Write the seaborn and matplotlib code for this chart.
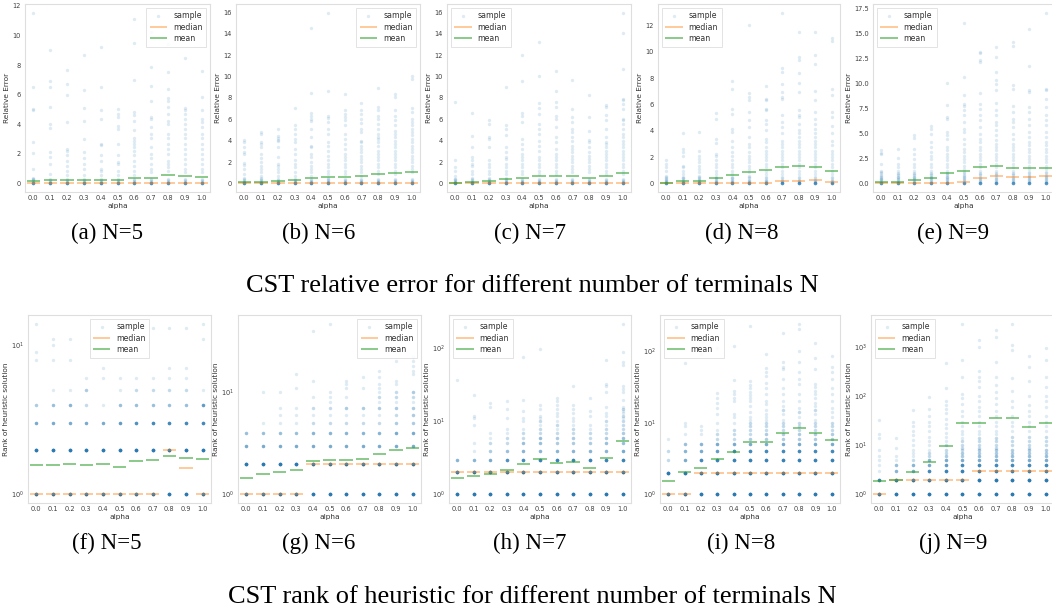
import numpy as np
import pandas as pd
import matplotlib
matplotlib.use("Agg")
import matplotlib.pyplot as plt
import seaborn as sns

# ---------------- data ----------------
alphas = [0.0, 0.1, 0.2, 0.3, 0.4, 0.5, 0.6, 0.7, 0.8, 0.9, 1.0]
alpha_labels = ["0.0", "0.1", "0.2", "0.3", "0.4", "0.5", "0.6", "0.7", "0.8", "0.9", "1.0"]
panel_captions = ["(a) N=5", "(b) N=6", "(c) N=7", "(d) N=8", "(e) N=9",
                  "(f) N=5", "(g) N=6", "(h) N=7", "(i) N=8", "(j) N=9"]
row_titles = ["CST relative error for different number of terminals N",
              "CST rank of heuristic for different number of terminals N"]

# relative error samples (visible points per alpha)
err_N5 = [
    [11.55, 6.5, 5.05, 4.95, 2.8, 2.05, 1.0, 0.4, 0.3],
    [9.0, 6.9, 6.55, 5.2, 4.05, 3.75, 2.15, 1.8, 1.3, 0.65],
    [7.65, 6.7, 5.95, 4.15, 2.35, 2.2, 1.9, 1.55, 1.2, 0.85, 0.6],
    [8.65, 6.3, 5.1, 4.25, 3.0, 2.1, 1.75, 1.3, 1.0, 0.6],
    [9.25, 6.5, 4.95, 4.35, 2.7, 2.6, 1.9, 1.55, 1.0, 0.85, 0.6],
    [5.05, 4.7, 4.5, 3.85, 3.7, 2.7, 1.9, 1.45, 1.3, 0.85, 0.6],
    [11.1, 9.5, 7.0, 4.8, 4.6, 4.25, 3.6, 3.1, 2.9, 2.65, 2.45, 2.2, 1.9, 1.55, 1.2, 0.85, 0.6],
    [10.25, 7.9, 6.6, 5.6, 4.5, 4.35, 3.8, 3.35, 3.1, 2.45, 2.0, 1.75, 1.3, 1.0, 0.75],
    [9.4, 7.55, 6.35, 5.75, 5.6, 5.2, 4.7, 4.25, 4.05, 3.35, 3.05, 2.65, 2.35, 2.0, 1.55, 1.3, 1.1, 0.85],
    [8.5, 5.1, 4.95, 4.7, 4.35, 4.05, 3.7, 3.35, 3.1, 2.65, 2.35, 2.0, 1.65, 1.3, 1.0, 0.75],
    [7.6, 5.85, 4.95, 4.35, 4.15, 3.8, 3.35, 3.1, 2.65, 2.35, 2.0, 1.65, 1.3, 1.0, 0.75],
]
err_N6 = [
    [4.1, 3.85, 3.45, 2.9, 2.75, 1.9, 1.75, 1.35, 0.9, 0.55],
    [4.8, 4.65, 3.85, 3.7, 3.4, 2.75, 2.4, 2.05, 1.6, 1.35, 1.05, 0.7, 0.5],
    [5.1, 4.4, 4.25, 4.1, 4.0, 3.4, 2.45, 1.8, 1.65, 1.35, 1.05, 0.7],
    [7.1, 5.45, 5.1, 4.65, 4.15, 3.85, 3.25, 2.75, 2.15, 1.8, 1.5, 1.05, 0.7],
    [14.6, 8.5, 6.6, 6.35, 6.05, 5.85, 5.1, 4.35, 3.55, 3.4, 2.75, 2.45, 2.0, 1.65, 1.35, 1.05, 0.7],
    [16.0, 8.7, 6.35, 6.15, 5.75, 5.1, 4.65, 3.85, 3.55, 3.05, 2.6, 2.15, 1.8, 1.5, 1.2, 0.9, 0.55],
    [8.4, 6.85, 6.5, 6.2, 5.9, 5.5, 4.65, 4.15, 3.7, 3.25, 2.75, 2.45, 2.15, 1.8, 1.5, 1.2, 0.9],
    [7.55, 6.85, 6.5, 6.05, 5.65, 5.1, 4.8, 4.0, 3.85, 3.55, 3.25, 2.9, 2.6, 2.3, 2.0, 1.65, 1.35, 1.05, 0.7],
    [8.9, 7.15, 6.85, 6.35, 6.05, 5.6, 5.1, 4.65, 4.35, 4.15, 3.85, 3.55, 3.05, 2.75, 2.45, 2.15, 1.8, 1.5, 1.2, 0.9],
    [8.4, 8.1, 6.85, 6.35, 5.9, 5.45, 4.95, 4.65, 4.35, 4.0, 3.7, 3.4, 3.05, 2.75, 2.45, 2.15, 1.8, 1.5, 1.2, 0.9],
    [10.05, 9.8, 7.1, 6.7, 6.05, 5.75, 5.45, 5.1, 4.8, 4.5, 4.15, 3.85, 3.55, 3.25, 2.9, 2.6, 2.3, 2.0, 1.65, 1.35, 1.05],
]
err_N7 = [
    [7.6, 2.2, 1.5, 1.2, 0.7, 0.4],
    [6.6, 4.4, 3.4, 2.45, 2.15, 1.8, 1.65, 1.2, 0.9, 0.55],
    [5.95, 5.6, 4.35, 4.15, 3.4, 2.15, 1.8, 1.5, 1.2, 0.9, 0.55],
    [9.0, 5.45, 5.1, 4.5, 3.4, 2.9, 2.45, 2.3, 1.8, 1.5, 1.2, 0.9, 0.55],
    [12.0, 9.55, 6.6, 6.35, 5.75, 4.15, 3.7, 3.25, 2.75, 2.45, 2.15, 1.8, 1.5, 1.2, 0.9],
    [13.2, 10.05, 7.55, 7.1, 6.5, 5.6, 5.1, 4.65, 4.0, 3.55, 3.05, 2.45, 2.15, 1.8, 1.5, 1.2, 0.9],
    [10.55, 8.65, 7.6, 7.15, 6.35, 6.05, 5.25, 4.35, 3.85, 3.25, 2.75, 2.45, 2.15, 1.8, 1.5, 1.2, 0.9],
    [9.7, 7.0, 6.2, 5.75, 5.1, 4.8, 4.35, 4.0, 3.55, 3.25, 2.9, 2.6, 2.3, 2.0, 1.65, 1.35, 1.05],
    [8.25, 6.2, 4.9, 4.1, 3.85, 3.4, 2.9, 2.6, 2.3, 2.0, 1.65, 1.35, 1.05],
    [7.3, 7.15, 6.45, 5.9, 5.1, 4.35, 3.85, 3.7, 3.4, 3.05, 2.75, 2.45, 2.15, 1.8, 1.5, 1.2, 0.9],
    [16.0, 14.1, 10.75, 7.95, 7.8, 7.45, 7.0, 6.05, 5.9, 5.6, 5.1, 4.65, 4.35, 4.0, 3.7, 3.4, 3.05, 2.75, 2.45, 2.15, 1.8, 1.5, 1.2, 0.9],
]
err_N8 = [
    [1.8, 1.5, 1.25, 0.95, 0.6, 0.35],
    [3.8, 2.65, 2.4, 2.1, 1.35, 1.25, 0.95, 0.7, 0.45],
    [3.95, 2.5, 2.1, 1.85, 1.6, 1.35, 1.1, 0.85, 0.6, 0.35],
    [5.35, 4.9, 3.4, 3.05, 2.25, 2.1, 1.75, 1.5, 1.25, 0.95, 0.7, 0.45],
    [7.8, 7.2, 5.7, 5.3, 4.15, 3.9, 3.25, 2.75, 2.4, 2.1, 1.75, 1.5, 1.25, 0.95, 0.7, 0.45],
    [12.05, 6.85, 6.6, 6.35, 5.45, 4.8, 4.3, 3.5, 3.0, 2.75, 2.4, 2.1, 1.85, 1.6, 1.35, 1.1, 0.85, 0.6],
    [7.4, 6.45, 6.35, 5.7, 5.55, 4.8, 4.55, 4.05, 3.4, 3.15, 2.75, 2.5, 2.25, 2.0, 1.75, 1.5, 1.25, 0.95, 0.7],
    [13.0, 8.75, 8.5, 7.6, 6.95, 6.6, 6.45, 5.2, 4.65, 4.3, 3.8, 3.25, 3.0, 2.75, 2.5, 2.25, 2.0, 1.75, 1.5, 1.25, 0.95, 0.7],
    [11.55, 9.6, 9.4, 8.4, 7.65, 6.95, 5.55, 5.2, 5.05, 4.55, 4.05, 3.8, 3.5, 3.25, 3.0, 2.75, 2.5, 2.25, 2.0, 1.75, 1.5, 1.25, 0.95, 0.7],
    [11.5, 9.75, 9.1, 7.05, 6.35, 5.45, 4.9, 4.55, 4.15, 3.8, 3.5, 3.25, 3.0, 2.75, 2.5, 2.25, 2.0, 1.75, 1.5, 1.25, 0.95, 0.7],
    [11.05, 10.8, 7.15, 6.7, 5.45, 5.05, 4.4, 3.8, 3.25, 2.9, 2.5, 2.25, 2.0, 1.75, 1.5, 1.25, 0.95, 0.7],
]
err_N9 = [
    [3.3, 3.0, 2.9, 1.95, 1.25, 1.1, 0.75, 0.45],
    [3.45, 2.55, 1.95, 1.6, 1.25, 0.95, 0.6],
    [4.8, 4.55, 3.45, 2.95, 2.45, 1.95, 1.6, 1.25, 0.95, 0.6],
    [5.7, 5.45, 4.95, 4.1, 3.6, 3.1, 2.75, 2.45, 1.95, 1.6, 1.25, 0.95, 0.6],
    [10.05, 7.8, 6.6, 6.45, 5.1, 4.8, 4.45, 3.6, 3.3, 2.95, 2.6, 2.3, 1.95, 1.6, 1.25, 0.95, 0.6],
    [16.0, 10.65, 8.8, 7.9, 7.7, 7.3, 6.8, 6.1, 5.45, 5.1, 4.45, 3.95, 3.45, 3.1, 2.75, 2.45, 2.1, 1.75, 1.45, 1.1, 0.75],
    [13.15, 13.0, 12.3, 12.15, 9.05, 7.95, 7.45, 6.8, 6.3, 5.6, 4.95, 4.45, 4.1, 3.6, 3.3, 2.95, 2.6, 2.3, 1.95, 1.6, 1.25, 0.95],
    [13.65, 12.65, 11.15, 10.3, 9.95, 9.35, 8.05, 7.3, 6.8, 6.1, 5.8, 5.3, 4.8, 4.3, 3.95, 3.6, 3.3, 2.95, 2.6, 2.3, 1.95, 1.6, 1.25, 0.95],
    [14.15, 13.7, 9.8, 9.45, 7.7, 7.15, 6.45, 6.1, 5.6, 4.95, 4.45, 3.95, 3.6, 3.3, 2.95, 2.6, 2.3, 1.95, 1.6, 1.25, 0.95],
    [15.4, 11.7, 9.3, 9.15, 7.65, 7.15, 6.45, 5.8, 5.1, 4.6, 4.1, 3.8, 3.45, 3.1, 2.75, 2.45, 2.1, 1.75, 1.45, 1.1, 0.75],
    [17.05, 9.45, 9.3, 8.45, 7.65, 6.8, 6.3, 5.8, 5.1, 4.6, 4.1, 3.8, 3.45, 3.1, 2.75, 2.45, 2.1, 1.75, 1.45, 1.1, 0.75],
]
# the dense cluster of samples close to zero, present in every alpha column
err_dense_N5 = [0, 0, 0, 0, 0, 0, 0, 0, 0.02, 0.05, 0.1, 0.15, 0.2, 0.3]
err_dense_N6 = [0, 0, 0, 0, 0, 0, 0, 0, 0.02, 0.05, 0.1, 0.15, 0.2, 0.3, 0.4]
err_dense_N7 = [0, 0, 0, 0, 0, 0, 0, 0, 0.02, 0.05, 0.1, 0.15, 0.2, 0.3, 0.4]
err_dense_N8 = [0, 0, 0, 0, 0, 0, 0, 0, 0.02, 0.05, 0.1, 0.15, 0.2, 0.3, 0.4, 0.5]
err_dense_N9 = [0, 0, 0, 0, 0, 0, 0, 0, 0.05, 0.1, 0.2, 0.3, 0.4, 0.5, 0.6, 0.8, 1.0]

err_median_N5 = [0.0, 0.0, 0.0, 0.0, 0.0, 0.0, 0.0, 0.0, 0.0, 0.0, 0.0]
err_median_N6 = [0.03, 0.03, 0.03, 0.03, 0.03, 0.03, 0.03, 0.03, 0.03, 0.03, 0.03]
err_median_N7 = [0.03, 0.03, 0.03, 0.03, 0.03, 0.03, 0.03, 0.03, 0.03, 0.03, 0.03]
err_median_N8 = [0.0, 0.05, 0.03, 0.03, 0.03, 0.03, 0.03, 0.15, 0.18, 0.25, 0.08]
err_median_N9 = [0.05, 0.03, 0.03, 0.03, 0.03, 0.1, 0.5, 0.75, 0.6, 0.6, 0.77]

err_mean_N5 = [0.18, 0.22, 0.22, 0.22, 0.22, 0.22, 0.4, 0.4, 0.57, 0.5, 0.42]
err_mean_N6 = [0.15, 0.18, 0.22, 0.32, 0.5, 0.63, 0.63, 0.72, 0.88, 0.97, 1.1]
err_mean_N7 = [0.05, 0.12, 0.22, 0.38, 0.5, 0.72, 0.72, 0.7, 0.5, 0.72, 0.97]
err_mean_N8 = [0.03, 0.15, 0.15, 0.45, 0.63, 0.85, 1.02, 1.28, 1.3, 1.22, 0.97]
err_mean_N9 = [0.1, 0.1, 0.33, 0.53, 1.0, 1.2, 1.6, 1.7, 1.55, 1.55, 1.55]

# rank of heuristic samples: {rank: number of samples}
rank_N5 = [
    {1: 20, 2: 20, 3: 6, 4: 3, 8: 1, 9: 1, 14: 1},
    {1: 20, 2: 20, 3: 6, 4: 4, 5: 1, 8: 1, 10: 1, 11: 1},
    {1: 20, 2: 20, 3: 6, 4: 5, 5: 1, 8: 1, 11: 1},
    {1: 20, 2: 20, 3: 6, 4: 2, 5: 3, 6: 1},
    {1: 20, 2: 20, 3: 6, 4: 1, 6: 1, 7: 1},
    {1: 20, 2: 20, 3: 8, 4: 4, 5: 1, 6: 1},
    {1: 20, 2: 20, 3: 10, 4: 4, 5: 2, 6: 1},
    {1: 20, 2: 20, 3: 12, 4: 4, 5: 2, 6: 1, 13: 1},
    {1: 20, 2: 20, 3: 12, 4: 4, 5: 2, 6: 1, 7: 1, 13: 1},
    {1: 20, 2: 20, 3: 12, 4: 4, 5: 2, 6: 1, 7: 1, 13: 1},
    {1: 20, 2: 20, 3: 12, 4: 8, 5: 1, 11: 1, 14: 1},
]
rank_N6 = [
    {1: 20, 2: 20, 3: 6, 4: 4},
    {1: 20, 2: 20, 3: 6, 4: 4, 5: 1, 10: 1},
    {1: 20, 2: 20, 3: 6, 4: 4, 5: 1, 6: 1, 7: 1, 10: 1},
    {1: 20, 2: 20, 3: 6, 4: 4, 5: 1, 6: 1, 7: 1, 11: 1, 15: 1},
    {1: 20, 2: 20, 3: 6, 4: 5, 5: 2, 6: 1, 7: 2, 9: 1, 13: 1, 40: 1},
    {1: 20, 2: 20, 3: 6, 4: 5, 5: 2, 6: 1, 7: 2, 8: 1, 9: 1, 10: 1, 47: 1},
    {1: 20, 2: 20, 3: 6, 4: 5, 5: 2, 6: 1, 7: 3, 9: 1, 11: 1, 12: 1, 13: 1},
    {1: 20, 2: 20, 3: 6, 4: 5, 5: 2, 6: 1, 7: 3, 11: 1, 14: 1},
    {1: 20, 2: 20, 3: 6, 4: 5, 5: 2, 6: 1, 7: 3, 8: 1, 9: 2, 10: 1, 11: 1, 12: 1, 14: 1, 16: 1},
    {1: 20, 2: 20, 3: 6, 4: 6, 5: 3, 6: 2, 7: 3, 8: 1, 9: 2, 10: 2, 12: 1, 13: 1, 20: 1},
    {1: 20, 2: 20, 3: 6, 4: 6, 5: 3, 6: 3, 7: 3, 8: 1, 9: 2, 10: 3, 15: 1, 16: 1, 18: 1, 20: 1, 22: 1},
]
rank_N7 = [
    {1: 20, 2: 20, 3: 5, 37: 1},
    {1: 20, 2: 20, 3: 5, 4: 1, 5: 1, 9: 1, 11: 1, 12: 1, 23: 1},
    {1: 20, 2: 20, 3: 6, 4: 3, 5: 2, 6: 1, 7: 1, 16: 1, 18: 1},
    {1: 20, 2: 20, 3: 10, 4: 4, 5: 2, 6: 2, 7: 1, 8: 1, 11: 1, 15: 1, 19: 1},
    {1: 20, 2: 20, 3: 12, 4: 5, 5: 4, 6: 2, 7: 2, 8: 1, 10: 1, 11: 1, 14: 1, 20: 1, 77: 1},
    {1: 20, 2: 20, 3: 14, 4: 5, 5: 4, 6: 4, 7: 2, 8: 2, 9: 1, 10: 2, 11: 1, 12: 1, 15: 1, 17: 1, 100: 1},
    {1: 20, 2: 20, 3: 14, 4: 5, 5: 3, 6: 3, 7: 2, 8: 1, 9: 2, 10: 1, 12: 1, 13: 1, 15: 1, 17: 1, 19: 1, 21: 1},
    {1: 20, 2: 20, 3: 14, 4: 5, 5: 3, 6: 3, 7: 2, 8: 2, 9: 1, 10: 1, 11: 1, 13: 1, 15: 1, 17: 1, 31: 1},
    {1: 20, 2: 20, 3: 14, 4: 5, 5: 3, 6: 2, 7: 2, 8: 1, 9: 1, 12: 1, 14: 1, 21: 1},
    {1: 20, 2: 20, 3: 14, 4: 5, 5: 4, 6: 3, 7: 2, 8: 2, 9: 1, 10: 2, 12: 1, 13: 1, 16: 1, 25: 1, 31: 1, 33: 1, 70: 1},
    {1: 20, 2: 20, 3: 14, 4: 6, 5: 4, 6: 4, 7: 3, 8: 2, 9: 2, 10: 2, 11: 1, 12: 2, 13: 1, 14: 1, 15: 2, 16: 1,
     20: 1, 25: 1, 28: 1, 31: 1, 60: 1, 65: 1, 90: 1, 220: 1},
]
rank_N8 = [
    {1: 20, 2: 20, 3: 2, 4: 2, 6: 1},
    {1: 20, 2: 20, 3: 6, 4: 5, 5: 4, 7: 1, 9: 1, 10: 1, 67: 1},
    {1: 20, 2: 20, 3: 12, 4: 6, 5: 5, 7: 1, 8: 1, 9: 1, 90: 1},
    {1: 20, 2: 20, 3: 14, 4: 8, 5: 6, 6: 2, 7: 2, 8: 1, 10: 1, 13: 1, 16: 1, 19: 1, 22: 1, 26: 1, 110: 1},
    {1: 20, 2: 20, 3: 15, 4: 12, 5: 6, 6: 2, 7: 2, 8: 2, 10: 1, 12: 1, 13: 1, 20: 1, 22: 1, 25: 1, 28: 1, 39: 1, 115: 1},
    {1: 20, 2: 20, 3: 15, 4: 12, 5: 6, 6: 3, 7: 2, 8: 2, 9: 2, 10: 2, 11: 1, 12: 1, 14: 1, 17: 1, 20: 1, 22: 1,
     24: 1, 27: 1, 30: 1, 33: 1, 38: 1, 220: 1},
    {1: 20, 2: 20, 3: 15, 4: 12, 5: 6, 6: 3, 7: 3, 8: 2, 9: 2, 10: 2, 11: 1, 12: 1, 13: 1, 15: 1, 18: 1, 20: 1,
     25: 1, 30: 1, 36: 1, 45: 1, 50: 1, 57: 1, 90: 1},
    {1: 20, 2: 20, 3: 15, 4: 12, 5: 6, 6: 3, 7: 3, 8: 2, 9: 2, 10: 2, 11: 1, 13: 1, 15: 2, 17: 1, 20: 1, 25: 1,
     30: 1, 40: 1, 55: 1, 60: 1, 70: 1, 180: 1},
    {1: 20, 2: 20, 3: 15, 4: 12, 5: 6, 6: 3, 7: 3, 8: 2, 9: 2, 10: 2, 12: 1, 14: 2, 16: 1, 20: 1, 25: 1, 34: 1,
     40: 1, 50: 1, 70: 1, 100: 1, 200: 1, 240: 1},
    {1: 20, 2: 20, 3: 15, 4: 12, 5: 6, 6: 3, 7: 3, 8: 2, 9: 2, 10: 2, 11: 1, 13: 1, 15: 2, 17: 1, 19: 1, 22: 1,
     25: 1, 28: 1, 31: 1, 35: 1, 55: 1, 80: 1, 130: 1},
    {1: 20, 2: 20, 3: 15, 4: 12, 5: 6, 6: 3, 7: 3, 8: 2, 9: 2, 10: 2, 12: 1, 14: 1, 16: 1, 20: 1, 25: 1, 30: 1,
     40: 1, 50: 1, 60: 1, 85: 1},
]
rank_N9 = [
    {1: 20, 2: 14, 3: 1, 4: 1, 5: 1, 6: 1, 8: 1, 14: 1, 17: 1, 33: 1},
    {1: 20, 2: 20, 3: 5, 4: 4, 5: 1, 6: 1, 9: 1, 14: 1},
    {1: 20, 2: 20, 3: 6, 4: 5, 5: 2, 6: 1, 7: 1, 8: 1, 10: 1, 13: 1, 16: 1, 20: 1, 25: 1, 30: 1, 52: 1},
    {1: 20, 2: 20, 3: 12, 4: 6, 5: 5, 6: 2, 7: 2, 8: 1, 10: 1, 12: 1, 15: 1, 20: 1, 25: 1, 30: 1, 40: 1, 55: 1, 95: 1},
    {1: 20, 2: 20, 3: 14, 4: 8, 5: 6, 6: 3, 7: 2, 8: 2, 10: 2, 12: 1, 15: 1, 18: 1, 22: 1, 27: 1, 35: 1, 45: 1,
     55: 1, 65: 1, 80: 1, 145: 1, 480: 1},
    {1: 20, 2: 20, 3: 15, 4: 12, 5: 6, 6: 3, 7: 3, 8: 2, 9: 2, 10: 2, 12: 2, 14: 1, 17: 1, 20: 1, 25: 1, 30: 1,
     40: 1, 50: 1, 70: 1, 90: 1, 110: 1, 250: 1, 550: 1, 3000: 1},
    {1: 20, 2: 20, 3: 15, 4: 12, 5: 6, 6: 4, 7: 3, 8: 3, 9: 2, 10: 2, 12: 2, 14: 2, 17: 1, 20: 1, 25: 1, 30: 1,
     40: 1, 50: 1, 60: 1, 80: 1, 100: 1, 150: 1, 200: 1, 250: 1, 330: 1, 1000: 1, 1400: 1},
    {1: 20, 2: 20, 3: 15, 4: 12, 5: 6, 6: 4, 7: 3, 8: 3, 9: 2, 10: 2, 12: 2, 14: 2, 17: 1, 20: 1, 25: 1, 30: 1,
     40: 1, 50: 1, 70: 1, 90: 1, 120: 1, 170: 1, 250: 1, 500: 1, 1600: 1, 2200: 1},
    {1: 20, 2: 20, 3: 15, 4: 12, 5: 6, 6: 4, 7: 3, 8: 3, 10: 2, 12: 2, 15: 2, 20: 1, 25: 1, 30: 1, 40: 1, 60: 1,
     80: 1, 130: 1, 230: 1, 850: 1, 1100: 1, 3000: 1},
    {1: 20, 2: 20, 3: 15, 4: 12, 5: 6, 6: 4, 7: 3, 8: 3, 9: 2, 10: 2, 12: 2, 15: 2, 20: 1, 25: 1, 30: 1, 40: 1,
     50: 1, 65: 1, 100: 1, 200: 1, 400: 1, 650: 1},
    {1: 20, 2: 20, 3: 15, 4: 12, 5: 6, 6: 4, 7: 3, 8: 3, 10: 2, 12: 2, 15: 2, 20: 1, 25: 1, 30: 1, 40: 1, 60: 1,
     80: 1, 100: 1, 150: 1, 250: 1, 550: 1, 950: 1},
]
rank_median_N5 = [1, 1, 1, 1, 1, 1, 1, 1, 2, 1.5, 1]
rank_median_N6 = [1, 1, 1, 1, 2, 2, 2, 2, 2, 2, 2]
rank_median_N7 = [2, 2, 2, 2, 2, 2, 2, 2, 2, 2, 2]
rank_median_N8 = [1, 1, 2, 2, 2, 2, 2, 2, 2, 2, 2]
rank_median_N9 = [1, 2, 2, 2, 2, 2, 3, 3, 3, 3, 3]

rank_mean_N5 = [1.57, 1.57, 1.6, 1.58, 1.6, 1.53, 1.67, 1.7, 1.81, 1.76, 1.72]
rank_mean_N6 = [1.44, 1.57, 1.67, 1.72, 2.11, 2.18, 2.16, 2.2, 2.47, 2.71, 2.83]
rank_mean_N7 = [1.68, 1.77, 1.89, 2.17, 2.59, 3.04, 2.73, 2.79, 2.33, 3.2, 5.45]
rank_mean_N8 = [1.54, 2.06, 2.37, 3.1, 3.94, 5.44, 5.44, 7.2, 8.4, 7.2, 5.8]
rank_mean_N9 = [1.84, 1.96, 2.86, 4.58, 9.75, 27.9, 28.3, 36.0, 36.0, 23.5, 28.3]

# ---------------- build tables ----------------
def err_frame(samples, dense):
    rows = []
    for a, col in zip(alphas, samples):
        for v in list(col) + list(dense):
            rows.append((a, v))
    return pd.DataFrame(rows, columns=["alpha", "value"])


def rank_frame(samples):
    rows = []
    for a, col in zip(alphas, samples):
        for v, c in col.items():
            rows.extend([(a, v)] * c)
    return pd.DataFrame(rows, columns=["alpha", "value"])


err_panels = [
    (err_frame(err_N5, err_dense_N5), err_median_N5, err_mean_N5),
    (err_frame(err_N6, err_dense_N6), err_median_N6, err_mean_N6),
    (err_frame(err_N7, err_dense_N7), err_median_N7, err_mean_N7),
    (err_frame(err_N8, err_dense_N8), err_median_N8, err_mean_N8),
    (err_frame(err_N9, err_dense_N9), err_median_N9, err_mean_N9),
]
rank_panels = [
    (rank_frame(rank_N5), rank_median_N5, rank_mean_N5),
    (rank_frame(rank_N6), rank_median_N6, rank_mean_N6),
    (rank_frame(rank_N7), rank_median_N7, rank_mean_N7),
    (rank_frame(rank_N8), rank_median_N8, rank_mean_N8),
    (rank_frame(rank_N9), rank_median_N9, rank_mean_N9),
]

# ---------------- style / layout ----------------
sns.set_style("whitegrid")
plt.rcParams.update({
    "axes.edgecolor": "0.87",
    "axes.linewidth": 0.8,
    "xtick.labelsize": 4.8,
    "ytick.labelsize": 4.8,
    "xtick.major.pad": 2.0,
    "ytick.major.pad": 3.0,
    "axes.labelsize": 5.3,
    "axes.labelpad": 1.5,
    "text.color": "0.2",
    "axes.labelcolor": "0.2",
    "xtick.color": "0.25",
    "ytick.color": "0.25",
})

BLUE, ORANGE, GREEN = "#1f77b4", "#ff7f0e", "#2ca02c"
W, H = 1052, 609
fig = plt.figure(figsize=(W / 100, H / 100), dpi=100)

top_x = [(25, 210), (236, 420), (447, 631), (658, 840), (873, 1054)]
bot_x = [(28, 211), (238, 421), (449, 631), (660, 840), (871, 1054)]
top_y = (4, 192)
bot_y = (315, 503)
top_leg = ["upper right", "upper right", "upper left", "upper left", "upper left"]
bot_leg = ["upper center", "upper right", "upper left", "upper left", "upper left"]


def add_ax(xr, yr):
    return fig.add_axes([xr[0] / W, 1 - yr[1] / H, (xr[1] - xr[0]) / W, (yr[1] - yr[0]) / H])


def draw(ax, df, med, mean, log, loc, ylabel):
    sns.scatterplot(data=df, x="alpha", y="value", ax=ax, s=6, color=BLUE,
                    alpha=0.14, linewidth=0, label="sample", zorder=2)
    xs = np.array(alphas)
    ax.hlines(med, xs - 0.04, xs + 0.04, color=ORANGE, alpha=0.45, lw=1.3,
              label="median", zorder=3)
    ax.hlines(mean, xs - 0.04, xs + 0.04, color=GREEN, alpha=0.7, lw=1.1,
              label="mean", zorder=4)
    if log:
        ax.set_yscale("log")
    ax.set_xlim(-0.05, 1.05)
    ax.set_xticks(alphas)
    ax.set_xticklabels(alpha_labels)
    ax.set_xlabel("alpha")
    ax.set_ylabel(ylabel)
    ax.grid(False)
    ax.tick_params(length=0)
    leg = ax.legend(loc=loc, fontsize=5.6, frameon=True, framealpha=0.85,
                    edgecolor="0.85", fancybox=False, borderpad=0.45,
                    handlelength=2.2, labelspacing=0.3, borderaxespad=0.5)
    leg.get_frame().set_linewidth(0.6)


for i, ((df, med, mean), xr) in enumerate(zip(err_panels, top_x)):
    ax = add_ax(xr, top_y)
    draw(ax, df, med, mean, False, top_leg[i], "Relative Error")

for i, ((df, med, mean), xr) in enumerate(zip(rank_panels, bot_x)):
    ax = add_ax(xr, bot_y)
    draw(ax, df, med, mean, True, bot_leg[i], "Rank of heuristic solution")

serif = ["Liberation Serif", "DejaVu Serif"]
for i in range(5):
    cx = (107 + 211.5 * i) / W
    fig.text(cx, 1 - 239 / H, panel_captions[i], ha="center", va="baseline",
             fontsize=16.5, family=serif, color="black")
    fig.text(cx, 1 - 549 / H, panel_captions[5 + i], ha="center", va="baseline",
             fontsize=16.5, family=serif, color="black")
fig.text(532 / W, 1 - 292 / H, row_titles[0], ha="center", va="baseline",
         fontsize=19, family=serif, color="black")
fig.text(532 / W, 1 - 603 / H, row_titles[1], ha="center", va="baseline",
         fontsize=19, family=serif, color="black")

fig.savefig("out.png", dpi=100)
